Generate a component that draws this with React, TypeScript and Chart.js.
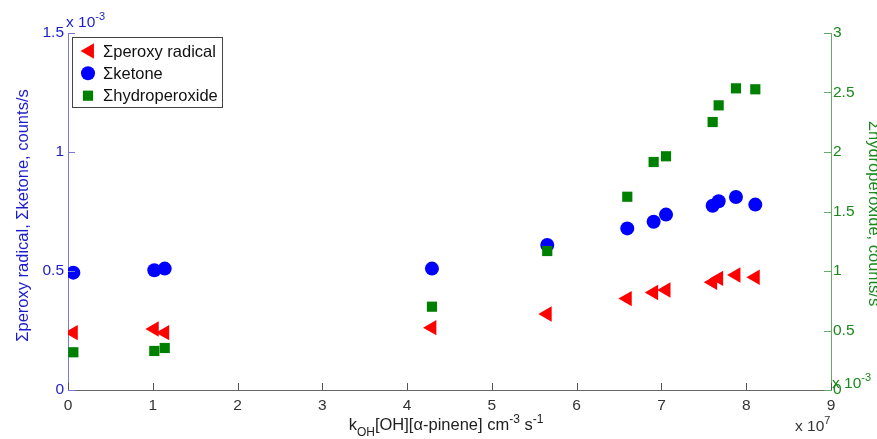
import React, { useEffect, useRef } from "react";
import { Chart, registerables } from "chart.js";

Chart.register(...registerables);

// x values in units of 1e7 (k_OH[OH][α-pinene] cm^-3 s^-1)
const xValues = [0.063, 1.018, 1.141, 4.293, 5.653, 6.597, 6.908, 7.054, 7.604, 7.675, 7.879, 8.107];
// left axis, units of 1e-3 counts/s
const peroxyRadical = [0.241, 0.256, 0.241, 0.262, 0.319, 0.384, 0.41, 0.42, 0.453, 0.469, 0.483, 0.474];
const ketone = [0.493, 0.503, 0.51, 0.51, 0.609, 0.679, 0.707, 0.737, 0.774, 0.793, 0.811, 0.779];
// right axis, units of 1e-3 counts/s
const hydroperoxide = [0.317, 0.328, 0.353, 0.7, 1.168, 1.624, 1.916, 1.964, 2.252, 2.392, 2.535, 2.527];

const xTicks = [0, 1, 2, 3, 4, 5, 6, 7, 8, 9];
const leftTicks = [0, 0.5, 1, 1.5];
const rightTicks = [0, 0.5, 1, 1.5, 2, 2.5, 3];
const seriesLabels = ["\u03A3peroxy radical", "\u03A3ketone", "\u03A3hydroperoxide"];

const RED = "#ff0000";
const BLUE = "#0000ff";
const GREEN = "#008000";
const BLUE_TEXT = "#1c1ccc";
const GREEN_TEXT = "#1a881a";
const FONT = '"Liberation Sans", Arial, sans-serif';

type Part = [string, "n" | "sub" | "sup"];

function richWidth(ctx: CanvasRenderingContext2D, parts: Part[], size: number) {
  let w = 0;
  for (const [t, k] of parts) {
    const s = k === "n" ? size : Math.round(size * 0.7);
    ctx.font = `${s}px ${FONT}`;
    w += ctx.measureText(t).width;
  }
  return w;
}

function drawRich(ctx: CanvasRenderingContext2D, parts: Part[], x: number, baseline: number, size: number, color: string) {
  let cx = x;
  ctx.fillStyle = color;
  ctx.textAlign = "left";
  ctx.textBaseline = "alphabetic";
  for (const [t, k] of parts) {
    const s = k === "n" ? size : Math.round(size * 0.7);
    const dy = k === "sub" ? size * 0.38 : k === "sup" ? -size * 0.45 : 0;
    ctx.font = `${s}px ${FONT}`;
    ctx.fillText(t, cx, baseline + dy);
    cx += ctx.measureText(t).width;
  }
  return cx;
}

function marker(ctx: CanvasRenderingContext2D, kind: string, x: number, y: number, color: string) {
  ctx.fillStyle = color;
  ctx.beginPath();
  if (kind === "triangle") {
    const r = 8.9;
    ctx.moveTo(x - r, y);
    ctx.lineTo(x + 0.5 * r, y - 0.866 * r);
    ctx.lineTo(x + 0.5 * r, y + 0.866 * r);
    ctx.closePath();
  } else if (kind === "circle") {
    ctx.arc(x, y, 7, 0, Math.PI * 2);
  } else {
    const h = 7.2 * Math.SQRT1_2;
    ctx.rect(x - h, y - h, 2 * h, 2 * h);
  }
  ctx.fill();
}

const overlayPlugin = {
  id: "overlay",
  afterDraw(chart: any) {
    const ctx: CanvasRenderingContext2D = chart.ctx;
    const { x, y, y2 } = chart.scales;
    const area = chart.chartArea;
    ctx.save();
    ctx.lineWidth = 1;

    // inward tick marks
    ctx.strokeStyle = "#555";
    ctx.beginPath();
    xTicks.forEach((v) => {
      const px = Math.round(x.getPixelForValue(v)) + 0.5;
      ctx.moveTo(px, area.bottom);
      ctx.lineTo(px, area.bottom - 7);
    });
    ctx.stroke();
    ctx.strokeStyle = "#7a7ad6";
    ctx.beginPath();
    leftTicks.forEach((v) => {
      const py = Math.round(y.getPixelForValue(v)) + 0.5;
      ctx.moveTo(area.left, py);
      ctx.lineTo(area.left + 7, py);
    });
    ctx.stroke();
    ctx.strokeStyle = "#66aa66";
    ctx.beginPath();
    rightTicks.forEach((v) => {
      const py = Math.round(y2.getPixelForValue(v)) + 0.5;
      ctx.moveTo(area.right, py);
      ctx.lineTo(area.right - 7, py);
    });
    ctx.stroke();

    // left axis title
    ctx.save();
    ctx.translate(23, (area.top + area.bottom) / 2 + 4);
    ctx.rotate(-Math.PI / 2);
    ctx.font = `16.5px ${FONT}`;
    ctx.fillStyle = BLUE_TEXT;
    ctx.textAlign = "center";
    ctx.textBaseline = "middle";
    ctx.fillText("\u03A3peroxy radical, \u03A3ketone, counts/s", 0, 0);
    ctx.restore();

    // right axis title (partially outside the canvas)
    ctx.save();
    ctx.translate(869, (area.top + area.bottom) / 2 + 2);
    ctx.rotate(Math.PI / 2);
    ctx.font = `16.5px ${FONT}`;
    ctx.fillStyle = GREEN_TEXT;
    ctx.textAlign = "center";
    ctx.textBaseline = "alphabetic";
    ctx.fillText("\u03A3hydroperoxide, counts/s", 0, 0);
    ctx.restore();

    // exponent labels
    drawRich(ctx, [["x 10", "n"], ["-3", "sup"]], 66, 27, 15.5, BLUE_TEXT);
    drawRich(ctx, [["x 10", "n"], ["-3", "sup"]], 832, 388, 15.5, GREEN_TEXT);
    drawRich(ctx, [["x 10", "n"], ["7", "sup"]], 795, 431, 15.5, "#333");

    // x axis title
    const xt: Part[] = [
      ["k", "n"],
      ["OH", "sub"],
      ["[OH][\u03B1-pinene] cm", "n"],
      ["-3", "sup"],
      [" s", "n"],
      ["-1", "sup"],
    ];
    const w = richWidth(ctx, xt, 16.5);
    drawRich(ctx, xt, 446 - w / 2, 430, 16.5, "#222");

    // legend
    ctx.fillStyle = "#fff";
    ctx.fillRect(73, 37.5, 149, 70);
    ctx.strokeStyle = "#444";
    ctx.strokeRect(72.5, 37.5, 150, 70);
    const kinds = ["triangle", "circle", "rect"];
    const colors = [RED, BLUE, GREEN];
    const rows = [51, 73.3, 95.7];
    kinds.forEach((k, i) => {
      marker(ctx, k, k === "triangle" ? 89.5 : 88, rows[i], colors[i]);
      ctx.font = `16.5px ${FONT}`;
      ctx.fillStyle = "#111";
      ctx.textAlign = "left";
      ctx.textBaseline = "middle";
      ctx.fillText(seriesLabels[i], 103, rows[i] + 1);
    });

    ctx.restore();
  },
};

export default function App() {
  const ref = useRef<HTMLCanvasElement | null>(null);

  useEffect(() => {
    if (!ref.current) return;
    const chart = new Chart(ref.current, {
      type: "scatter",
      data: {
        datasets: [
          {
            label: seriesLabels[0],
            data: xValues.map((x, i) => ({ x, y: peroxyRadical[i] })),
            yAxisID: "y",
            pointStyle: "triangle",
            rotation: -90,
            pointRadius: 8.9,
            backgroundColor: RED,
            borderColor: RED,
            borderWidth: 0,
            order: 2,
          },
          {
            label: seriesLabels[1],
            data: xValues.map((x, i) => ({ x, y: ketone[i] })),
            yAxisID: "y",
            pointStyle: "circle",
            pointRadius: 7,
            backgroundColor: BLUE,
            borderColor: BLUE,
            borderWidth: 0,
            order: 1,
          },
          {
            label: seriesLabels[2],
            data: xValues.map((x, i) => ({ x, y: hydroperoxide[i] })),
            yAxisID: "y2",
            pointStyle: "rect",
            pointRadius: 7.2,
            backgroundColor: GREEN,
            borderColor: GREEN,
            borderWidth: 0,
            order: 0,
          },
        ],
      },
      options: {
        animation: false,
        responsive: false,
        maintainAspectRatio: false,
        devicePixelRatio: 1,
        layout: { padding: { top: 33, left: 0, right: 0, bottom: 0 } },
        plugins: { legend: { display: false }, tooltip: { enabled: false } },
        scales: {
          x: {
            type: "linear",
            min: 0,
            max: 9,
            afterFit: (s: any) => {
              s.height = 49;
            },
            afterBuildTicks: (s: any) => {
              s.ticks = xTicks.map((v) => ({ value: v }));
            },
            ticks: {
              color: "#333",
              font: { size: 15.5, family: FONT },
              padding: 6,
              maxRotation: 0,
              autoSkip: false,
              callback: (v: any) => String(v),
            },
            grid: { display: false, drawTicks: false },
            border: { display: true, color: "#666", width: 1 },
          },
          y: {
            type: "linear",
            position: "left",
            min: 0,
            max: 1.5,
            afterFit: (s: any) => {
              s.width = 68;
            },
            afterBuildTicks: (s: any) => {
              s.ticks = leftTicks.map((v) => ({ value: v }));
            },
            ticks: {
              color: BLUE_TEXT,
              font: { size: 15.5, family: FONT },
              padding: 4,
              callback: (v: any) => String(v),
            },
            grid: { display: false, drawTicks: false },
            border: { display: true, color: "#7a7ad6", width: 1 },
          },
          y2: {
            type: "linear",
            position: "right",
            min: 0,
            max: 3,
            afterFit: (s: any) => {
              s.width = 46;
            },
            afterBuildTicks: (s: any) => {
              s.ticks = rightTicks.map((v) => ({ value: v }));
            },
            ticks: {
              color: GREEN_TEXT,
              font: { size: 15.5, family: FONT },
              padding: 2,
              callback: (v: any) => String(v),
            },
            grid: { display: false, drawTicks: false },
            border: { display: true, color: "#66aa66", width: 1 },
          },
        },
      },
      plugins: [overlayPlugin],
    });
    return () => chart.destroy();
  }, []);

  return (
    <div style={{ position: "absolute", left: 0, top: 0, width: 877, height: 439, background: "#fff" }}>
      <canvas ref={ref} width={877} height={439} style={{ display: "block", width: 877, height: 439 }} />
    </div>
  );
}
